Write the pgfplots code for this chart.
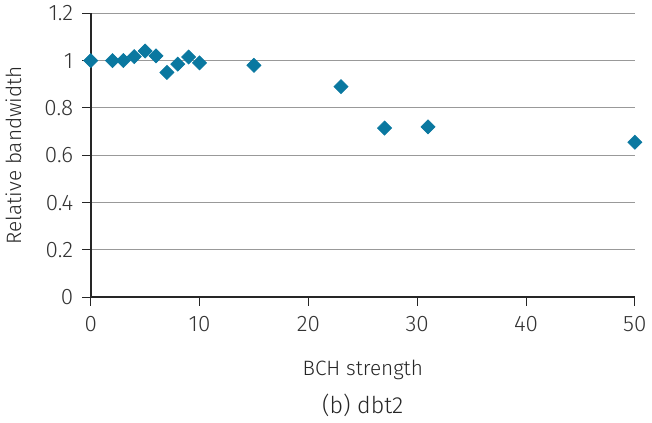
\documentclass[border=0pt]{standalone}
\usepackage{pgfplots}
\pgfplotsset{compat=1.18}
\usepackage{fontspec}
\setmainfont{Fira Sans Light}[BoldFont=Fira Sans]
\definecolor{pt}{HTML}{0A78A0}
\begin{document}
\begin{tikzpicture}
\begin{axis}[
  width=327.6pt, height=171pt, scale only axis,
  xmin=0, xmax=50, ymin=0, ymax=1.2,
  xtick={0,10,...,50}, ytick={0,0.2,...,1.2},
  yticklabels={0,0.2,0.4,0.6,0.8,1,1.2},
  axis lines=left, axis line style={black!85, line width=1pt, -},
  tick style={black!85, line width=0.6pt},
  tick align=outside, major tick length=5pt,
  ymajorgrids, grid style={gray!80, line width=0.6pt},
  /pgf/number format/assume math mode=true,
  tick label style={font=\fontsize{13.5}{15}\selectfont, text=black!80},
  yticklabel style={xshift=-2pt},
  xticklabel style={yshift=-3pt},
  label style={font=\fontsize{12.5}{14}\selectfont, text=black!85},
  xlabel={BCH strength}, ylabel={Relative bandwidth},
  xlabel style={yshift=-10pt}, ylabel style={yshift=7pt},
  clip=false,
]
\addplot[only marks, mark=square*, mark size=3pt, mark options={rotate=45, fill=pt, draw=pt}]
coordinates {
(0,1.0) (2,1.0) (3,1.0) (4,1.017) (5,1.04) (6,1.02) (7,0.95) (8,0.985) (9,1.015) (10,0.99)
(15,0.98) (23,0.89) (27,0.715) (31,0.72) (50,0.655)
};
\node[font=\fontsize{14}{16}\selectfont, text=black!85] at (rel axis cs:0.5,-0.38) {(b) dbt2};
\end{axis}
\end{tikzpicture}
\end{document}
